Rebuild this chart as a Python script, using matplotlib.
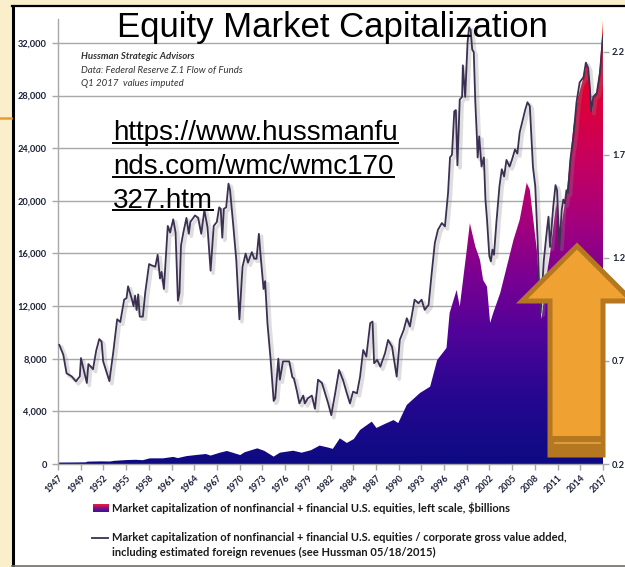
import numpy as np
import matplotlib
matplotlib.use("Agg")
import matplotlib.pyplot as plt
from matplotlib.patches import Polygon, Rectangle
from matplotlib.colors import LinearSegmentedColormap
from matplotlib.lines import Line2D
import matplotlib.patheffects as pe

# ---- data -------------------------------------------------------------
cap_years = [1947.0, 1949.5, 1950.6, 1950.8, 1952.5, 1953.7, 1954.2, 1955.8, 1957.0, 1957.9,
             1958.8, 1960.5, 1961.8, 1962.4, 1963.5, 1964.7, 1966.0, 1966.6, 1967.8, 1968.7,
             1969.6, 1970.4, 1971.0, 1972.6, 1973.5, 1974.7, 1975.5, 1977.2, 1978.3, 1979.5,
             1980.6, 1981.7, 1982.3, 1983.2, 1984.1, 1985.0, 1985.8, 1987.3, 1987.9, 1989.0,
             1990.1, 1990.7, 1991.8, 1993.5, 1994.8, 1995.7, 1996.9, 1997.3, 1998.2, 1998.6,
             1999.5, 1999.9, 2000.6, 2001.2, 2001.6, 2002.1, 2002.5, 2002.9, 2003.8, 2005.5,
             2006.3, 2007.2, 2007.6, 2008.5, 2009.1, 2009.8, 2010.2, 2011.0, 2011.5, 2012.4,
             2013.2, 2013.8, 2014.3, 2014.7, 2014.9, 2015.3, 2015.6, 2015.8, 2016.2, 2016.6,
             2017.0]
cap_billions = [110, 120, 130, 180, 200, 190, 240, 300, 320, 290,
                430, 430, 540, 450, 600, 680, 760, 640, 860, 990,
                830, 680, 900, 1190, 1000, 560, 860, 1010, 860, 1050,
                1400, 1250, 1150, 1950, 1600, 1900, 2590, 3220, 2740, 3050,
                3340, 3110, 4490, 5400, 5880, 7900, 8820, 11480, 13230, 11960,
                16270, 18300, 16530, 15510, 13990, 13480, 10720, 11480, 13000, 17030,
                18560, 21370, 20840, 16270, 11000, 14500, 16000, 19800, 17500, 21000,
                25630, 27900, 28970, 29810, 30570, 28970, 26770, 27900, 28210, 30190,
                33760]

ratio_years = [1947.17, 1947.68, 1948.1, 1948.76, 1949.3, 1949.8, 1949.95, 1950.25, 1950.7, 1950.9,
               1951.5, 1951.9, 1952.3, 1952.6, 1952.8, 1953.6, 1954.1, 1954.6, 1955.0, 1955.5,
               1955.8, 1956.0, 1956.5, 1956.7, 1956.9, 1957.1, 1957.3, 1957.5, 1957.9, 1958.2,
               1958.7, 1959.0, 1959.5, 1959.8, 1960.1, 1960.3, 1960.6, 1961.1, 1961.4, 1961.8,
               1962.1, 1962.4, 1962.6, 1962.8, 1963.1, 1963.5, 1963.8, 1964.0, 1964.6, 1965.0,
               1965.4, 1965.8, 1966.2, 1966.6, 1967.0, 1967.4, 1967.7, 1967.9, 1968.1, 1968.3,
               1968.6, 1968.9, 1969.1, 1969.5, 1969.9, 1970.3, 1970.7, 1971.1, 1971.4, 1971.9,
               1972.2, 1972.5, 1972.8, 1973.0, 1973.4, 1973.6, 1973.9, 1974.3, 1974.7, 1974.9,
               1975.3, 1975.5, 1975.9, 1976.4, 1976.7, 1977.1, 1977.3, 1977.7, 1978.0, 1978.5,
               1978.7, 1979.1, 1979.6, 1980.0, 1980.4, 1980.9, 1981.3, 1981.7, 1982.1, 1982.6,
               1983.1, 1983.6, 1984.1, 1984.5, 1984.9, 1985.4, 1985.8, 1986.2, 1986.6, 1987.1,
               1987.4, 1987.6, 1988.0, 1988.4, 1989.0, 1989.4, 1989.9, 1990.3, 1990.5, 1990.9,
               1991.4, 1991.8, 1992.2, 1992.8, 1993.3, 1993.7, 1994.1, 1994.6, 1995.0, 1995.4,
               1995.8, 1996.3, 1996.7, 1997.1, 1997.35, 1997.6, 1997.9, 1998.1, 1998.3, 1998.6,
               1998.9, 1999.0, 1999.3, 1999.6, 1999.8, 2000.0, 2000.2, 2000.4, 2000.6, 2000.8,
               2000.9, 2001.1, 2001.4, 2001.7, 2001.9, 2002.1, 2002.4, 2002.6, 2002.8, 2003.0,
               2003.3, 2003.7, 2004.0, 2004.3, 2004.6, 2005.0, 2005.3, 2005.7, 2006.0, 2006.3,
               2006.7, 2007.0, 2007.3, 2007.6, 2008.0, 2008.3, 2008.6, 2008.8, 2009.0, 2009.4,
               2009.8, 2010.0, 2010.2, 2010.6, 2010.9, 2011.1, 2011.4, 2011.7, 2011.9, 2012.1,
               2012.3, 2012.5, 2012.8, 2013.2, 2013.6, 2014.0, 2014.5, 2014.8, 2015.1, 2015.3,
               2015.5, 2015.75, 2016.2, 2016.6, 2017.0]
ratio_values = [0.778, 0.730, 0.640, 0.625, 0.601, 0.625, 0.714, 0.666, 0.593, 0.685,
                0.660, 0.749, 0.806, 0.794, 0.698, 0.602, 0.743, 0.902, 0.889, 0.998,
                1.004, 1.062, 0.998, 0.966, 1.017, 0.947, 1.023, 0.915, 0.915, 1.030,
                1.170, 1.164, 1.157, 1.215, 1.100, 1.132, 1.049, 1.355, 1.323, 1.387,
                1.323, 0.992, 1.030, 1.260, 1.323, 1.394, 1.317, 1.374, 1.406, 1.394,
                1.317, 1.432, 1.349, 1.138, 1.355, 1.374, 1.445, 1.438, 1.298, 1.438,
                1.445, 1.560, 1.528, 1.362, 1.189, 0.902, 1.157, 1.221, 1.177, 1.228,
                1.196, 1.196, 1.317, 1.221, 1.049, 1.087, 0.883, 0.711, 0.506, 0.519,
                0.711, 0.609, 0.698, 0.698, 0.698, 0.621, 0.615, 0.551, 0.494, 0.532,
                0.494, 0.519, 0.532, 0.468, 0.609, 0.593, 0.543, 0.494, 0.437, 0.543,
                0.656, 0.608, 0.543, 0.494, 0.551, 0.543, 0.624, 0.753, 0.721, 0.883,
                0.891, 0.689, 0.705, 0.672, 0.737, 0.802, 0.769, 0.672, 0.624, 0.802,
                0.850, 0.907, 0.867, 0.997, 0.980, 0.997, 0.948, 0.972, 1.126, 1.272,
                1.336, 1.369, 1.353, 1.515, 1.687, 1.700, 1.911, 1.917, 1.649, 1.968,
                1.981, 2.134, 1.981, 2.243, 2.319, 2.306, 2.211, 2.198, 1.955, 1.789,
                1.687, 1.789, 1.643, 1.687, 1.483, 1.387, 1.209, 1.183, 1.240, 1.215,
                1.368, 1.547, 1.630, 1.595, 1.675, 1.643, 1.675, 1.726, 1.706, 1.809,
                1.872, 1.917, 1.955, 1.936, 1.643, 1.547, 1.285, 1.062, 0.934, 1.189,
                1.336, 1.400, 1.253, 1.445, 1.553, 1.528, 1.253, 1.432, 1.483, 1.464,
                1.528, 1.515, 1.675, 1.789, 1.955, 2.051, 2.077, 2.147, 2.121, 2.032,
                1.911, 1.981, 2.000, 2.096, 2.274]

x_labels = ["1947", "1949", "1952", "1955", "1958", "1961", "1964", "1967", "1970", "1973",
            "1976", "1979", "1982", "1984", "1987", "1990", "1993", "1996", "1999", "2002",
            "2005", "2008", "2011", "2014", "2017"]
left_ticks = [0, 4000, 8000, 12000, 16000, 20000, 24000, 28000, 32000]
right_ticks = [0.2, 0.7, 1.2, 1.7, 2.2]

title = "Equity Market Capitalization"
url_lines = ["https://www.hussmanfu", "nds.com/wmc/wmc170", "327.htm"]
source_lines = ["Hussman Strategic Advisors", "Data: Federal Reserve Z.1 Flow of Funds",
                "Q1 2017  values imputed"]
legend_area = "Market capitalization of nonfinancial + financial U.S. equities, left scale, $billions"
legend_line = ["Market capitalization of nonfinancial + financial U.S. equities / corporate gross value added,",
               "including estimated foreign revenues (see Hussman 05/18/2015)"]

# ---- figure ------------------------------------------------------------
W, H = 625, 567
fig = plt.figure(figsize=(W / 100, H / 100), dpi=100)
fig.patch.set_facecolor("#FBEFCB")


def fx(x):
    return x / W


def fy(y):
    return 1 - y / H


def P(x, y):
    return (fx(x), fy(y))


# slide frame
fig.add_artist(Rectangle(P(12, 566), fx(640) - fx(12), fy(6) - fy(566),
                         transform=fig.transFigure, facecolor="white", edgecolor="none", zorder=0))
fig.add_artist(Line2D([fx(12.5), fx(12.5)], [fy(5.5), fy(566)], transform=fig.transFigure,
                      color="black", lw=2.2, zorder=1))
fig.add_artist(Line2D([fx(12), fx(640)], [fy(6), fy(6)], transform=fig.transFigure,
                      color="black", lw=1.6, zorder=1))
fig.add_artist(Line2D([fx(12), fx(640)], [fy(565.5), fy(565.5)], transform=fig.transFigure,
                      color="#6E6E6E", lw=1.2, zorder=1))
fig.add_artist(Line2D([fx(0), fx(11)], [fy(117.5), fy(117.5)], transform=fig.transFigure,
                      color="#EE9A2A", lw=1.8, zorder=1))

# ---- axes --------------------------------------------------------------
LEFT_TOP = 33800
ax = fig.add_axes([fx(58), fy(464), fx(603) - fx(58), fy(19.3) - fy(464)])
ax.set_facecolor("none")
ax.set_xlim(1947, 2017)
ax.set_ylim(0, LEFT_TOP)

grid_c = "#A8A8A8"
tick_c = "#1B2238"
ax.set_yticks(left_ticks)
ax.set_yticklabels([f"{v:,}" for v in left_ticks], fontsize=6.7, fontweight="bold",
                   color=tick_c, family="Lato")
ax.yaxis.grid(True, color=grid_c, lw=1.0)
ax.set_axisbelow(True)
xt = np.linspace(1947, 2017, len(x_labels))
ax.set_xticks(xt)
ax.set_xticklabels(x_labels, rotation=45, ha="right", va="top", rotation_mode="anchor",
                   fontsize=6.4, fontweight="bold", color=tick_c, family="Lato")
ax.tick_params(axis="both", color=grid_c, length=4, width=1.0, pad=4)
ax.tick_params(axis="x", pad=3)
for s in ("top", "right"):
    ax.spines[s].set_visible(False)
for s in ("left", "bottom"):
    ax.spines[s].set_color(grid_c)
    ax.spines[s].set_linewidth(1.0)

# gradient-filled market cap area
cmap = LinearSegmentedColormap.from_list("cap", [
    (0.00, "#0D0B82"), (0.15, "#260790"), (0.30, "#52039A"), (0.42, "#7A0092"),
    (0.55, "#A6007C"), (0.68, "#C60060"), (0.80, "#DA003E"), (0.90, "#E6002A"),
    (0.97, "#EA2A1E"), (1.00, "#F07A22")])
cx = np.array(cap_years)
cy = np.array(cap_billions)
verts = np.column_stack([np.r_[cx[0], cx, cx[-1]], np.r_[0, cy, 0]])
clip = Polygon(verts, closed=True, transform=ax.transData, facecolor="none", edgecolor="none")
ax.add_patch(clip)
grad = np.linspace(0, 1, 512).reshape(-1, 1)
im = ax.imshow(grad, extent=[1947, 2017, 0, LEFT_TOP], origin="lower", aspect="auto",
               cmap=cmap, zorder=2, interpolation="bilinear")
im.set_clip_path(clip)

# ratio line on the right scale
ax2 = ax.twinx()
ax2.set_ylim(0.2, 0.2 + LEFT_TOP / 15667)
ax2.set_yticks(right_ticks)
ax2.set_yticklabels([f"{v:.1f}" for v in right_ticks], fontsize=6.7, fontweight="bold",
                    color=tick_c, family="Lato")
ax2.tick_params(axis="y", color=grid_c, length=4, width=1.0, pad=2.5)
for s in ax2.spines.values():
    s.set_visible(False)
ax2.plot(ratio_years, ratio_values, color="#3B3052", lw=1.3, solid_joinstyle="round",
         path_effects=[pe.SimpleLineShadow(offset=(1.8, -1.8), shadow_color="#8A8A8A",
                                           alpha=0.28, linewidth=2.6),
                       pe.Normal()])

# ---- text --------------------------------------------------------------
fig.text(fx(332), fy(36.5), title, ha="center", va="baseline", fontsize=25,
         family="Liberation Sans", color="black", zorder=10)

fig.canvas.draw()
renderer = fig.canvas.get_renderer()
for i, line in enumerate(url_lines):
    base = 140.5 + i * 33.5
    t = fig.text(fx(113), fy(base), line, ha="left", va="baseline", fontsize=20,
                 family="Liberation Sans", color="black", zorder=10)
    bb = t.get_window_extent(renderer)
    fig.add_artist(Line2D([bb.x0 / W, bb.x1 / W], [fy(base + 2.5), fy(base + 2.5)],
                          transform=fig.transFigure, color="black", lw=1.4, zorder=10))

for i, line in enumerate(source_lines):
    fig.text(fx(81), fy(57 + i * 13.5), line, ha="left", va="center", fontsize=6.9,
             style="italic", fontweight="bold" if i == 0 else "normal",
             family="Lato", color="#333333", zorder=10)

# legend
lax = fig.add_axes([fx(93), fy(512), fx(108) - fx(93), fy(504) - fy(512)])
lax.imshow(np.linspace(0, 1, 32).reshape(-1, 1), cmap=LinearSegmentedColormap.from_list(
    "leg", ["#2A1A9A", "#8A0A8A", "#E8203A"]), origin="lower", aspect="auto", extent=[0, 1, 0, 1])
lax.axis("off")
fig.text(fx(112), fy(508), legend_area, ha="left", va="center", fontsize=8.0,
         fontweight="bold", family="Lato", color="#1A1A1A")
fig.add_artist(Line2D([fx(92), fx(108)], [fy(537.5), fy(537.5)], transform=fig.transFigure,
                      color="#4A4060", lw=1.4))
for i, line in enumerate(legend_line):
    fig.text(fx(112), fy(537.5 + i * 14.5), line, ha="left", va="center", fontsize=8.0,
             fontweight="bold", family="Lato", color="#1A1A1A")

# ---- up arrow ------------------------------------------------------------
arrow_pts = [P(577, 246), P(632, 301), P(603, 301), P(603, 455), P(550, 455), P(550, 301), P(522, 301)]
fig.add_artist(Polygon(arrow_pts, closed=True, transform=fig.transFigure, facecolor="#EFA232",
                       edgecolor="#B5771F", lw=3.6, joinstyle="miter", zorder=20))
fig.add_artist(Rectangle(P(550, 455), fx(603) - fx(550), fy(436) - fy(455), transform=fig.transFigure,
                         facecolor="#B5771F", edgecolor="none", zorder=21))
fig.add_artist(Line2D([fx(555), fx(600)], [fy(443), fy(443)], transform=fig.transFigure,
                      color="#E3A445", lw=1.2, zorder=22))

fig.savefig("out.png", dpi=100, facecolor=fig.get_facecolor())
